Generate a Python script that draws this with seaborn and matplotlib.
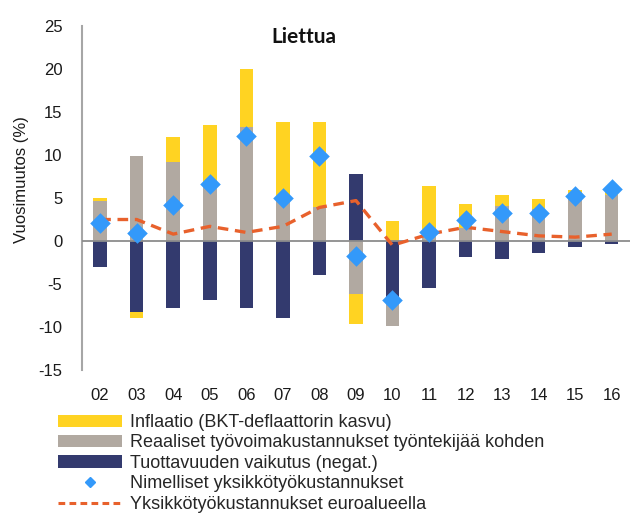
import numpy as np
import pandas as pd
import matplotlib
matplotlib.use("Agg")
import matplotlib.pyplot as plt
from matplotlib.patches import Patch
from matplotlib.lines import Line2D
import seaborn as sns

# Lithuania: decomposition of nominal unit labour cost growth, % y/y
years = ["02", "03", "04", "05", "06", "07", "08", "09", "10", "11", "12", "13", "14", "15", "16"]
productivity = [-3.05, -8.2, -7.8, -6.9, -7.8, -8.9, -4.0, 7.8, -7.0, -5.45, -1.9, -2.1, -1.4, -0.7, -0.3]
real_comp = [4.6, 9.9, 9.2, 6.5, 13.3, 5.1, 4.0, -6.2, -2.9, 1.0, 1.5, 4.1, 3.7, 5.55, 5.35]
inflation = [0.4, -0.8, 2.9, 7.0, 6.7, 8.7, 9.8, -3.4, 2.35, 5.4, 2.85, 1.3, 1.15, 0.4, 0.7]
nominal_ulc = [2.1, 0.9, 4.2, 6.6, 12.2, 5.0, 9.9, -1.7, -6.9, 1.0, 2.4, 3.3, 3.2, 5.2, 6.0]
euro_area_ulc = [2.5, 2.5, 0.8, 1.7, 1.0, 1.7, 3.9, 4.7, -0.5, 0.8, 1.6, 1.1, 0.6, 0.45, 0.8]

labels = [
    "Inflaatio (BKT-deflaattorin kasvu)",
    "Reaaliset työvoimakustannukset työntekijää kohden",
    "Tuottavuuden vaikutus (negat.)",
    "Nimelliset yksikkötyökustannukset",
    "Yksikkötyökustannukset euroalueella",
]

C_YELLOW = "#FFD322"
C_GRAY = "#B1A9A1"
C_NAVY = "#333A6E"
C_BLUE = "#3399FA"
C_ORANGE = "#E8612C"

sns.set_theme(style="white")
plt.rcParams["font.family"] = ["Liberation Sans", "DejaVu Sans"]
plt.rcParams["axes.unicode_minus"] = False

# Excel-style stacking: positive parts stack upward, negative parts downward,
# in the order productivity -> real compensation -> inflation.
series = [np.array(productivity), np.array(real_comp), np.array(inflation)]
pos_base = np.zeros(len(years))
neg_base = np.zeros(len(years))
outer_edges = []
for s in series:
    edge = np.where(s >= 0, pos_base + s, neg_base + s)
    pos_base = np.where(s >= 0, pos_base + s, pos_base)
    neg_base = np.where(s < 0, neg_base + s, neg_base)
    outer_edges.append(edge)

fig = plt.figure(figsize=(6.3, 5.18), dpi=100)
ax = fig.add_axes([0.130, 0.2857, 0.870, 0.6641])

# draw outermost layer first so inner segments sit on top of it
bar_w = 0.37
for edge, col in zip(reversed(outer_edges), [C_YELLOW, C_GRAY, C_NAVY]):
    df = pd.DataFrame({"year": years, "value": edge})
    sns.barplot(data=df, x="year", y="value", color=col, saturation=1,
                width=bar_w, errorbar=None, ax=ax, linewidth=0, zorder=2)

ax.axhline(0, color="#8C8C8C", lw=1.3, zorder=3)

xpos = np.arange(len(years))
sns.lineplot(x=xpos, y=euro_area_ulc, ax=ax, color=C_ORANGE, lw=2.4,
             zorder=4, legend=False)
ax.lines[-1].set_dashes((3.2, 2.0))
sns.scatterplot(x=xpos, y=nominal_ulc, ax=ax, marker="D", s=110,
                color=C_BLUE, linewidth=0, zorder=5, legend=False)

ax.set_ylim(-15, 25)
ax.set_xlim(-0.5, len(years) - 0.5)
ax.set_yticks(np.arange(-15, 26, 5))
ax.set_xlabel("")
ax.set_ylabel("")
ax.tick_params(axis="y", length=0, pad=14, labelsize=12, colors="#1a1a1a")
ax.tick_params(axis="x", length=0, pad=13, labelsize=12, colors="#1a1a1a")
for side in ["top", "right", "bottom"]:
    ax.spines[side].set_visible(False)
ax.spines["left"].set_color("#A6A6A6")
ax.spines["left"].set_linewidth(1.5)

fig.text(22 / 630, 1 - 180 / 518, "Vuosimuutos (%)", rotation=90,
         ha="center", va="center", fontsize=12, color="#1a1a1a")
fig.text(304 / 630, 1 - 37 / 518, "Liettua", ha="center", va="center",
         fontsize=15, fontweight="bold", family=["Lato", "DejaVu Sans"],
         color="#111111")

handles = [
    Patch(facecolor=C_YELLOW, edgecolor="none"),
    Patch(facecolor=C_GRAY, edgecolor="none"),
    Patch(facecolor=C_NAVY, edgecolor="none"),
    Line2D([], [], marker="D", color=C_BLUE, lw=0, markersize=5),
    Line2D([], [], color=C_ORANGE, lw=2.2, dashes=(2.2, 1.4)),
]
fig.legend(handles, labels, loc="upper left", bbox_to_anchor=(58 / 630, 1 - 414 / 518),
           frameon=False, fontsize=13, handlelength=3.55, handleheight=0.65,
           handletextpad=0.45, labelspacing=0.19, borderaxespad=0, borderpad=0)

fig.savefig("out.png", dpi=100)
